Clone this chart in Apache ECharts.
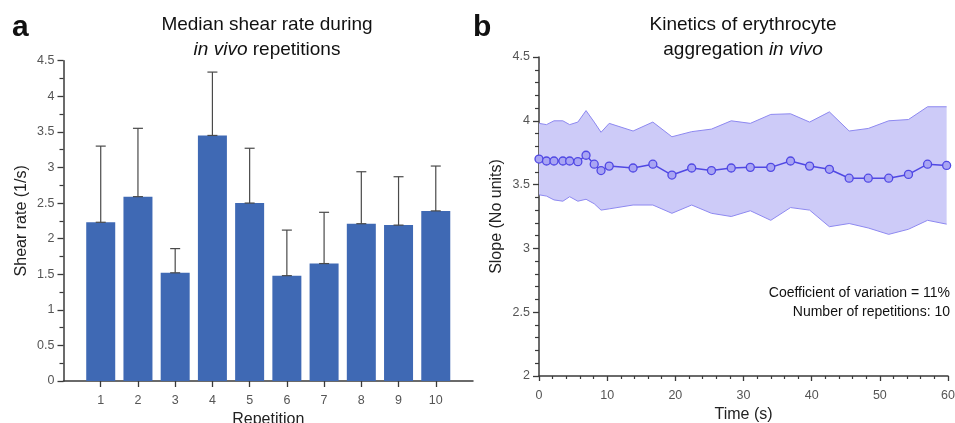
<!DOCTYPE html>
<html><head><meta charset="utf-8">
<script src="https://cdn.jsdelivr.net/npm/echarts@6/dist/echarts.min.js"></script>
<style>html,body{margin:0;padding:0;background:#fff}#c{width:955px;height:423px}</style>
</head><body><div id="c"></div>
<script>
// Panel a data
const repetitions = [1, 2, 3, 4, 5, 6, 7, 8, 9, 10];
const shearMedian = [2.23, 2.59, 1.52, 3.45, 2.50, 1.48, 1.65, 2.21, 2.19, 2.39];
const shearUpper  = [3.30, 3.55, 1.86, 4.34, 3.27, 2.12, 2.37, 2.94, 2.87, 3.02];
// Panel b data
const timeS = [0, 1.1, 2.2, 3.5, 4.5, 5.7, 6.9, 8.1, 9.1, 10.3, 13.8, 16.7, 19.5, 22.4, 25.3, 28.2, 31.0, 34.0, 36.9, 39.7, 42.6, 45.5, 48.3, 51.3, 54.2, 57.0, 59.8];
const slopeMean = [3.70, 3.685, 3.685, 3.685, 3.685, 3.68, 3.73, 3.66, 3.61, 3.645, 3.63, 3.66, 3.575, 3.63, 3.61, 3.63, 3.635, 3.635, 3.685, 3.645, 3.62, 3.55, 3.55, 3.55, 3.58, 3.66, 3.65];
const slopeUpper = [3.98, 3.97, 4.00, 4.00, 3.97, 3.99, 4.08, 3.99, 3.91, 3.98, 3.92, 3.99, 3.875, 3.915, 3.935, 4.00, 3.98, 4.05, 4.055, 3.99, 4.07, 3.92, 3.94, 4.00, 4.01, 4.11, 4.11];
const slopeLower = [3.42, 3.41, 3.38, 3.37, 3.405, 3.37, 3.385, 3.35, 3.30, 3.31, 3.34, 3.34, 3.275, 3.34, 3.275, 3.25, 3.295, 3.22, 3.32, 3.30, 3.17, 3.195, 3.16, 3.11, 3.15, 3.22, 3.19];
const yTicksA = [0, 0.5, 1, 1.5, 2, 2.5, 3, 3.5, 4, 4.5];
const xTicksB = [0, 10, 20, 30, 40, 50, 60];

const FONT = '"Liberation Sans", Arial, sans-serif';
const axisColor = '#3a3a3a';
const labelColor = '#555';

const chart = echarts.init(document.getElementById('c'), null, {renderer: 'canvas'});

const barData = repetitions.map((r, i) => [r, shearMedian[i]]);
const errData = repetitions.map((r, i) => [r, shearMedian[i], shearUpper[i]]);
const meanData = timeS.map((t, i) => [t, slopeMean[i]]);

const axisCommon = {
  axisLine: {show: true, lineStyle: {color: axisColor, width: 1.5}},
  axisTick: {show: true, length: 6, lineStyle: {color: axisColor, width: 1.3}},
  minorTick: {show: true, length: 4, lineStyle: {color: axisColor, width: 1.2}},
  splitLine: {show: false},
  axisLabel: {color: labelColor, fontSize: 12.5, fontFamily: FONT}
};

const richTitle = {
  n: {fontSize: 19, fill: '#111', fontFamily: FONT, lineHeight: 25},
  i: {fontSize: 19, fill: '#111', fontStyle: 'italic', fontFamily: FONT, lineHeight: 25}
};

chart.setOption({
  animation: false,
  textStyle: {fontFamily: FONT},
  graphic: [
    {type: 'text', left: 12, top: 13, silent: true, style: {text: 'a', font: 'bold 30px ' + FONT, fill: '#111'}},
    {type: 'text', left: 473, top: 13, silent: true, style: {text: 'b', font: 'bold 30px ' + FONT, fill: '#111'}},
    {type: 'text', x: 267, y: 12, silent: true, style: {
      text: '{n|Median shear rate during}\n{i|in vivo}{n| repetitions}', align: 'center', verticalAlign: 'top',
      rich: richTitle}},
    {type: 'text', x: 743, y: 12, silent: true, style: {
      text: '{n|Kinetics of erythrocyte}\n{n|aggregation }{i|in vivo}', align: 'center', verticalAlign: 'top',
      rich: richTitle}},
    {type: 'text', x: 950, y: 284, silent: true, style: {
      text: 'Coefficient of variation = 11%\nNumber of repetitions: 10', align: 'right', verticalAlign: 'top',
      font: '14px ' + FONT, fill: '#111', lineHeight: 19}}
  ],
  grid: [
    {left: 63.5, top: 60.7, width: 409.5, height: 320.3, outerBoundsMode: 'none', containLabel: false},
    {left: 539, top: 57, width: 409, height: 319, outerBoundsMode: 'none', containLabel: false}
  ],
  xAxis: [
    Object.assign({}, axisCommon, {
      gridIndex: 0, type: 'value', min: 0, max: 11, interval: 1,
      name: 'Repetition', nameLocation: 'middle', nameGap: 31,
      nameTextStyle: {fontSize: 16, color: '#222', fontFamily: FONT, verticalAlign: 'top'},
      axisTick: {show: true, length: 6, customValues: repetitions, lineStyle: {color: axisColor, width: 1.3}},
      minorTick: {show: false},
      axisLabel: {color: labelColor, fontSize: 12.5, fontFamily: FONT, margin: 13, customValues: repetitions}
    }),
    Object.assign({}, axisCommon, {
      gridIndex: 1, type: 'value', min: 0, max: 60, interval: 10,
      name: 'Time (s)', nameLocation: 'middle', nameGap: 28,
      nameTextStyle: {fontSize: 16, color: '#222', fontFamily: FONT, verticalAlign: 'top'},
      axisTick: {show: true, length: 5, lineStyle: {color: axisColor, width: 1.3}},
      minorTick: {show: true, length: 3, splitNumber: 5, lineStyle: {color: axisColor, width: 1.2}},
      axisLabel: {color: labelColor, fontSize: 12.5, fontFamily: FONT, margin: 13, customValues: xTicksB}
    })
  ],
  yAxis: [
    Object.assign({}, axisCommon, {
      gridIndex: 0, type: 'value', min: 0, max: 4.5, interval: 0.5,
      name: 'Shear rate (1/s)', nameLocation: 'middle', nameGap: 34,
      nameTextStyle: {fontSize: 16, color: '#222', fontFamily: FONT},
      minorTick: {show: true, length: 4, splitNumber: 2, lineStyle: {color: axisColor, width: 1.2}},
      axisLabel: {color: labelColor, fontSize: 12.5, fontFamily: FONT, margin: 9, customValues: yTicksA}
    }),
    Object.assign({}, axisCommon, {
      gridIndex: 1, type: 'value', min: 2, max: 4.5, interval: 0.5,
      name: 'Slope (No units)', nameLocation: 'middle', nameGap: 34,
      nameTextStyle: {fontSize: 16, color: '#222', fontFamily: FONT},
      minorTick: {show: true, length: 4, splitNumber: 5, lineStyle: {color: axisColor, width: 1.2}},
      axisLabel: {color: labelColor, fontSize: 12.5, fontFamily: FONT, margin: 9}
    })
  ],
  series: [
    {
      type: 'bar', xAxisIndex: 0, yAxisIndex: 0, data: barData, barWidth: 29,
      itemStyle: {color: '#3f69b4'}, silent: true
    },
    {
      type: 'custom', xAxisIndex: 0, yAxisIndex: 0, data: errData, silent: true, z: 5,
      renderItem: function (params, api) {
        const x = api.value(0);
        const p0 = api.coord([x, api.value(1)]);
        const p1 = api.coord([x, api.value(2)]);
        const style = {stroke: '#4a4a4a', lineWidth: 1.2};
        return {type: 'group', children: [
          {type: 'line', shape: {x1: p0[0], y1: p0[1], x2: p1[0], y2: p1[1]}, style: style},
          {type: 'line', shape: {x1: p1[0] - 5, y1: p1[1], x2: p1[0] + 5, y2: p1[1]}, style: style},
          {type: 'line', shape: {x1: p0[0] - 5, y1: p0[1], x2: p0[0] + 5, y2: p0[1]}, style: style}
        ]};
      }
    },
    {
      type: 'custom', xAxisIndex: 1, yAxisIndex: 1, data: [0], silent: true, z: 1,
      renderItem: function (params, api) {
        if (params.dataIndex !== 0) return;
        const up = timeS.map((t, i) => api.coord([t, slopeUpper[i]]));
        const lo = timeS.map((t, i) => api.coord([t, slopeLower[i]]));
        const poly = up.concat(lo.slice().reverse());
        return {type: 'group', children: [
          {type: 'polygon', shape: {points: poly}, style: {fill: '#cdcbf8'}},
          {type: 'polyline', shape: {points: up}, style: {stroke: '#8d88f0', lineWidth: 1, fill: null}},
          {type: 'polyline', shape: {points: lo}, style: {stroke: '#8d88f0', lineWidth: 1, fill: null}}
        ]};
      }
    },
    {
      type: 'line', xAxisIndex: 1, yAxisIndex: 1, data: meanData, z: 6,
      symbol: 'circle', symbolSize: 8, showSymbol: true,
      lineStyle: {color: '#5048e4', width: 1.5},
      itemStyle: {color: '#a9a5f3', borderColor: '#5048e4', borderWidth: 1.3},
      silent: true
    }
  ]
});
</script>
</body></html>
